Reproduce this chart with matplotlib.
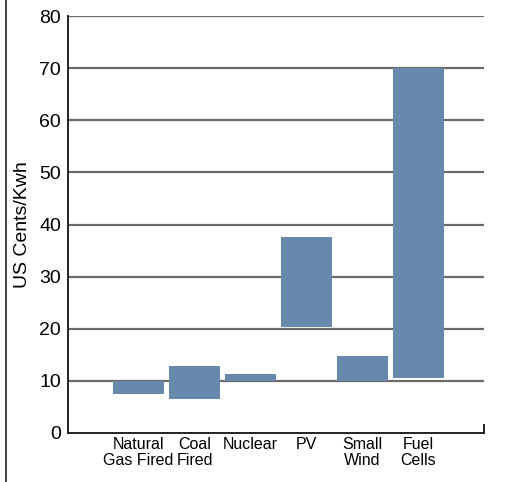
import numpy as np
import matplotlib.pyplot as plt
from matplotlib.lines import Line2D

plt.rcParams['font.family'] = ['Liberation Sans', 'DejaVu Sans']

# Cost range per generating technology (US cents/kWh)
sources = ['Natural\nGas Fired', 'Coal\nFired', 'Nuclear', 'PV', 'Small\nWind', 'Fuel\nCells']
cost_low = [7.4, 6.6, 10.0, 20.3, 10.0, 10.6]
cost_high = [9.9, 12.9, 11.3, 37.6, 14.8, 70.0]
y_ticks = [0, 10, 20, 30, 40, 50, 60, 70, 80]

fig = plt.figure(figsize=(5.28, 4.82), dpi=100)
ax = fig.add_axes([0.1288, 0.1017, 0.7879, 0.865])

x = np.arange(len(sources))
heights = np.array(cost_high) - np.array(cost_low)
ax.bar(x, heights, bottom=cost_low, width=0.91, color='#6889ad', zorder=3)

# horizontal gridlines (none at zero, the spine covers it)
for t in y_ticks[1:]:
    ax.axhline(t, color='#6a6a6a', linewidth=1.6, zorder=1)

ax.set_xlim(-1.26, 6.17)
ax.set_ylim(0, 80)
ax.set_yticks(y_ticks)
ax.set_xticks(x)
ax.set_xticklabels(sources, fontsize=11.5, linespacing=1.1)
ax.tick_params(axis='y', length=0, pad=5, labelsize=14)
ax.tick_params(axis='x', length=0, pad=3)
ax.set_ylabel('US Cents/Kwh', fontsize=14, labelpad=6)

for side in ['top', 'right']:
    ax.spines[side].set_visible(False)
for side in ['left', 'bottom']:
    ax.spines[side].set_color('#222222')
    ax.spines[side].set_linewidth(1.4)

# small end tick at the right of the baseline
ax.plot([6.17, 6.17], [0, 1.6], color='#222222', linewidth=1.4, clip_on=False, zorder=4)

# panel border on the left edge
fig.add_artist(Line2D([6 / 528, 6 / 528], [0, 1], transform=fig.transFigure,
                      color='#222222', linewidth=1.2))

plt.savefig('out.png', dpi=100)
